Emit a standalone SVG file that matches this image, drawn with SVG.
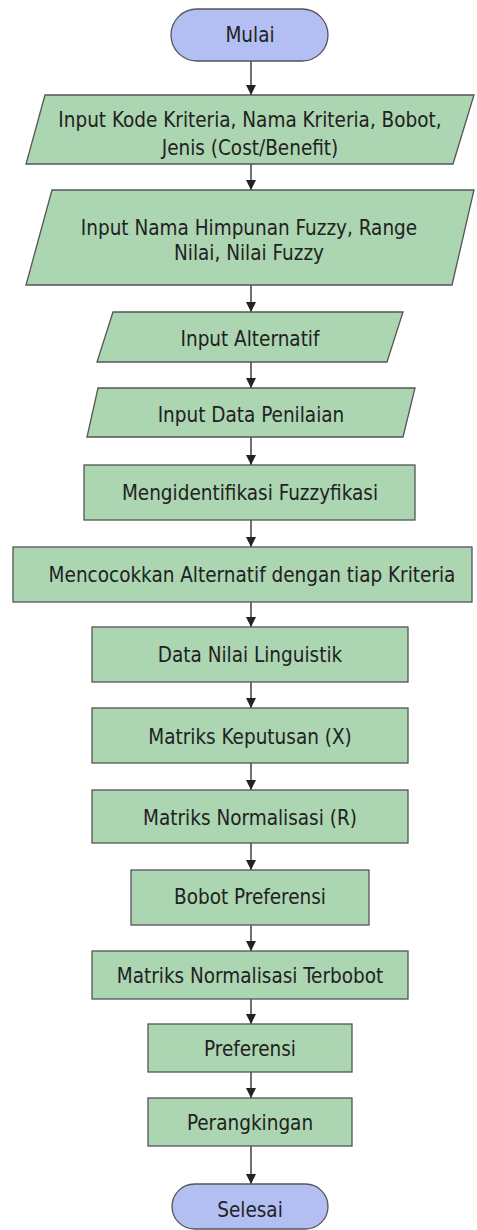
<svg xmlns="http://www.w3.org/2000/svg" width="477" height="1230" viewBox="0 0 477 1230">
<style>
.term{fill:#b3bff3;stroke:#555;stroke-width:1.3}
.box{fill:#acd5b1;stroke:#555;stroke-width:1.3}
.t{font-family:"DejaVu Sans Condensed","DejaVu Sans",sans-serif;font-size:20.5px;fill:#222;text-anchor:middle}
.c{stroke:#222;stroke-width:1.3;fill:none;marker-end:url(#ah)}
</style>
<defs>
<marker id="ah" markerUnits="userSpaceOnUse" markerWidth="12" markerHeight="10" refX="10" refY="5" orient="auto" viewBox="0 0 10 10">
<path d="M0,0 L10,5 L0,10 Z" fill="#222"/>
</marker>
</defs>
<rect width="477" height="1230" fill="#fff"/>
<g id="connectors">
<line class="c" x1="251" y1="61" x2="251" y2="95"/>
<line class="c" x1="251" y1="164" x2="251" y2="190"/>
<line class="c" x1="251" y1="285" x2="251" y2="312"/>
<line class="c" x1="251" y1="362" x2="251" y2="388"/>
<line class="c" x1="251" y1="437" x2="251" y2="465"/>
<line class="c" x1="251" y1="520" x2="251" y2="547"/>
<line class="c" x1="251" y1="602" x2="251" y2="627"/>
<line class="c" x1="251" y1="682" x2="251" y2="708"/>
<line class="c" x1="251" y1="763" x2="251" y2="790"/>
<line class="c" x1="251" y1="843" x2="251" y2="870"/>
<line class="c" x1="251" y1="925" x2="251" y2="951"/>
<line class="c" x1="251" y1="999" x2="251" y2="1024"/>
<line class="c" x1="251" y1="1072" x2="251" y2="1098"/>
<line class="c" x1="251" y1="1146" x2="251" y2="1184"/>
</g>
<g id="mulai">
<rect class="term" x="171" y="9" width="157" height="52" rx="26"/>
<text class="t" x="250" y="42">Mulai</text>
</g>
<g id="input-kriteria">
<polygon class="box" points="45,95 474,95 453,164 26,164"/>
<text class="t" x="250" y="127">Input Kode Kriteria, Nama Kriteria, Bobot,</text>
<text class="t" x="250" y="155">Jenis (Cost/Benefit)</text>
</g>
<g id="input-himpunan">
<polygon class="box" points="52,190 474,190 452,285 26,285"/>
<text class="t" x="249" y="235">Input Nama Himpunan Fuzzy, Range</text>
<text class="t" x="249" y="260">Nilai, Nilai Fuzzy</text>
</g>
<g id="input-alternatif">
<polygon class="box" points="113,312 403,312 387,362 97,362"/>
<text class="t" x="250" y="346">Input Alternatif</text>
</g>
<g id="input-penilaian">
<polygon class="box" points="98,388 415,388 403,437 87,437"/>
<text class="t" x="251" y="422">Input Data Penilaian</text>
</g>
<g id="fuzzyfikasi">
<rect class="box" x="84" y="465" width="331" height="55"/>
<text class="t" x="250" y="500">Mengidentifikasi Fuzzyfikasi</text>
</g>
<g id="mencocokkan">
<rect class="box" x="13" y="547" width="459" height="55"/>
<text class="t" x="252" y="582">Mencocokkan Alternatif dengan tiap Kriteria</text>
</g>
<g id="linguistik">
<rect class="box" x="92" y="627" width="316" height="55"/>
<text class="t" x="250" y="662">Data Nilai Linguistik</text>
</g>
<g id="keputusan">
<rect class="box" x="92" y="708" width="316" height="55"/>
<text class="t" x="250" y="744">Matriks Keputusan (X)</text>
</g>
<g id="normalisasi">
<rect class="box" x="92" y="790" width="316" height="53"/>
<text class="t" x="250" y="825">Matriks Normalisasi (R)</text>
</g>
<g id="bobot">
<rect class="box" x="131" y="870" width="238" height="55"/>
<text class="t" x="250" y="904">Bobot Preferensi</text>
</g>
<g id="terbobot">
<rect class="box" x="92" y="951" width="316" height="48"/>
<text class="t" x="250" y="983">Matriks Normalisasi Terbobot</text>
</g>
<g id="preferensi">
<rect class="box" x="148" y="1024" width="204" height="48"/>
<text class="t" x="250" y="1056">Preferensi</text>
</g>
<g id="perangkingan">
<rect class="box" x="148" y="1098" width="204" height="48"/>
<text class="t" x="250" y="1130">Perangkingan</text>
</g>
<g id="selesai">
<rect class="term" x="172" y="1184" width="156" height="45" rx="22.5"/>
<text class="t" x="250" y="1217">Selesai</text>
</g>
</svg>
